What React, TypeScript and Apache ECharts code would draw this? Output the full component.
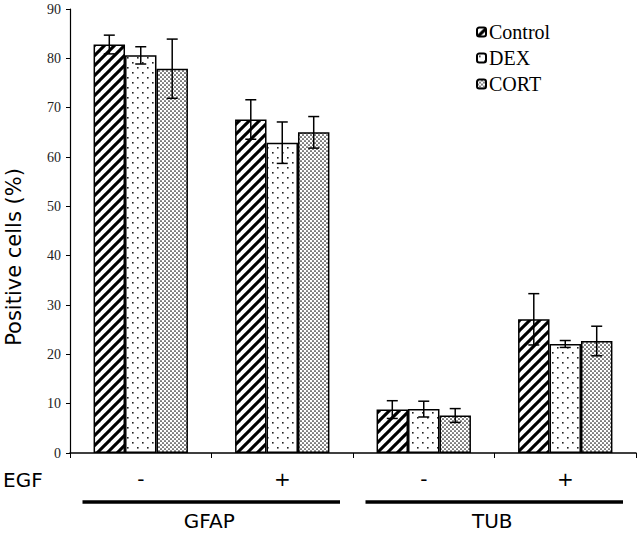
import React, { useEffect, useRef } from "react";
import * as echarts from "echarts";

const categories = ["GFAP -", "GFAP +", "TUB -", "TUB +"];
const egfSigns = ["-", "+", "-", "+"];
const markerGroups = ["GFAP", "TUB"];
const seriesNames = ["Control", "DEX", "CORT"];
const controlValues = [82.8, 67.6, 8.8, 27.1];
const controlErrors = [1.9, 4.0, 1.8, 5.2];
const dexValues = [80.6, 62.9, 8.9, 22.1];
const dexErrors = [1.75, 4.2, 1.6, 0.7];
const cortValues = [77.9, 65.0, 7.6, 22.7];
const cortErrors = [6.0, 3.2, 1.4, 3.0];
const yMin = 0;
const yMax = 90;
const yStep = 10;

const CAT_GAP = 0.333;

function makeTile(kind: string) {
  const c = document.createElement("canvas");
  const size = kind === "stripes" ? 10 : kind === "sparse" ? 10 : 4;
  c.width = size;
  c.height = size;
  const ctx = c.getContext("2d")!;
  ctx.fillStyle = "#fff";
  ctx.fillRect(0, 0, size, size);
  ctx.fillStyle = "#000";
  ctx.strokeStyle = "#000";
  if (kind === "stripes") {
    ctx.lineWidth = 3.1;
    for (const o of [-size, 0, size]) {
      ctx.beginPath();
      ctx.moveTo(o - 1, size + 1);
      ctx.lineTo(o + size + 1, -1);
      ctx.stroke();
    }
  } else if (kind === "sparse") {
    ctx.fillStyle = "#222";
    ctx.fillRect(2, 2, 1.6, 1.6);
    ctx.fillRect(7, 7, 1.6, 1.6);
  } else {
    ctx.fillStyle = "#111";
    ctx.beginPath();
    ctx.arc(1, 1, 0.85, 0, Math.PI * 2);
    ctx.arc(3, 3, 0.85, 0, Math.PI * 2);
    ctx.fill();
  }
  return { image: c.toDataURL(), repeat: "repeat", imageWidth: size, imageHeight: size } as any;
}

export default function App() {
  const ref = useRef<HTMLDivElement>(null);
  useEffect(() => {
    document.body.style.margin = "0";
    if (!ref.current) return;
    const chart = echarts.init(ref.current, undefined, { renderer: "svg" });
    const fills = [makeTile("stripes"), makeTile("sparse"), makeTile("dense")];
    const valueSets = [controlValues, dexValues, cortValues];
    const errSets = [controlErrors, dexErrors, cortErrors];

    const barSeries = seriesNames.map((name, k) => ({
      type: "bar",
      name,
      data: valueSets[k],
      barGap: "0%",
      barCategoryGap: CAT_GAP * 100 + "%",
      itemStyle: { color: fills[k], borderColor: "#000", borderWidth: 1.5 },
      emphasis: { disabled: true },
      z: 2,
    }));

    const errSeries = seriesNames.map((name, k) => ({
      type: "custom",
      name: name + " SD",
      data: valueSets[k].map((v, i) => [i, v, errSets[k][i]]),
      encode: { x: 0, y: 1 },
      z: 10,
      silent: true,
      renderItem: (params: any, api: any) => {
        const i = api.value(0);
        const v = api.value(1);
        const e = api.value(2);
        const catW = api.size([1, 0])[0];
        const bw = (catW * (1 - CAT_GAP)) / 3;
        const off = (k - 1) * bw;
        const pTop = api.coord([i, v + e]);
        const pBot = api.coord([i, v - e]);
        const x = pTop[0] + off;
        const cap = 5.5;
        const style = { stroke: "#000", lineWidth: 1.5 };
        return {
          type: "group",
          children: [
            { type: "line", shape: { x1: x, y1: pTop[1], x2: x, y2: pBot[1] }, style },
            { type: "line", shape: { x1: x - cap, y1: pTop[1], x2: x + cap, y2: pTop[1] }, style },
            { type: "line", shape: { x1: x - cap, y1: pBot[1], x2: x + cap, y2: pBot[1] }, style },
          ],
        };
      },
    }));

    chart.setOption({
      animation: false,
      grid: { left: 70, right: 4, top: 9, bottom: 80 },
      legend: {
        data: seriesNames,
        orient: "vertical",
        left: 476,
        top: 22,
        padding: 0,
        itemWidth: 9,
        itemHeight: 9,
        itemGap: 6,
        textStyle: { fontFamily: "Liberation Serif", fontSize: 20, color: "#000", padding: [0, 0, 0, -2] },
      },
      xAxis: {
        type: "category",
        data: categories,
        axisLine: { lineStyle: { color: "#000", width: 1.5 } },
        axisTick: { show: true, length: 5, lineStyle: { color: "#000" } },
        axisLabel: {
          formatter: (_v: string, idx: number) => egfSigns[idx],
          fontFamily: "DejaVu Sans",
          fontSize: 20,
          color: "#000",
          margin: 16,
        },
      },
      yAxis: {
        type: "value",
        min: yMin,
        max: yMax,
        interval: yStep,
        splitLine: { show: false },
        axisLine: { show: true, lineStyle: { color: "#000", width: 1.2 } },
        axisTick: { show: true, length: 4, lineStyle: { color: "#000" } },
        axisLabel: { fontFamily: "Liberation Serif", fontSize: 14, color: "#222", margin: 9 },
      },
      series: [...barSeries, ...errSeries],
    });

    const xs = categories.map((_, i) => chart.convertToPixel({ xAxisIndex: 0 }, i) as number);
    const catW = xs[1] - xs[0];
    const yTop = chart.convertToPixel({ yAxisIndex: 0 }, yMax) as number;
    const yBot = chart.convertToPixel({ yAxisIndex: 0 }, yMin) as number;
    const graphics: any[] = [
      {
        type: "text",
        x: 14,
        y: (yTop + yBot) / 2 + 26,
        rotation: Math.PI / 2,
        style: {
          text: "Positive cells (%)",
          fontFamily: "DejaVu Sans",
          fontSize: 21,
          fill: "#000",
          align: "center",
          verticalAlign: "middle",
        },
      },
      {
        type: "text",
        x: 3,
        y: yBot + 27,
        style: { text: "EGF", fontFamily: "DejaVu Sans", fontSize: 20, fill: "#000", align: "left", verticalAlign: "middle" },
      },
    ];
    markerGroups.forEach((g, gi) => {
      const l = xs[gi * 2] - catW / 2 + 12.5;
      const r = xs[gi * 2 + 1] + catW / 2 - 13;
      graphics.push({
        type: "line",
        shape: { x1: l, y1: yBot + 49, x2: r, y2: yBot + 49 },
        style: { stroke: "#000", lineWidth: 3.5 },
      });
      graphics.push({
        type: "text",
        x: (l + r) / 2 - 2,
        y: yBot + 68,
        style: { text: g, fontFamily: "DejaVu Sans", fontSize: 20, fill: "#000", align: "center", verticalAlign: "middle" },
      });
    });
    chart.setOption({ graphic: graphics });

    return () => chart.dispose();
  }, []);
  return <div ref={ref} style={{ width: 640, height: 533 }} />;
}
